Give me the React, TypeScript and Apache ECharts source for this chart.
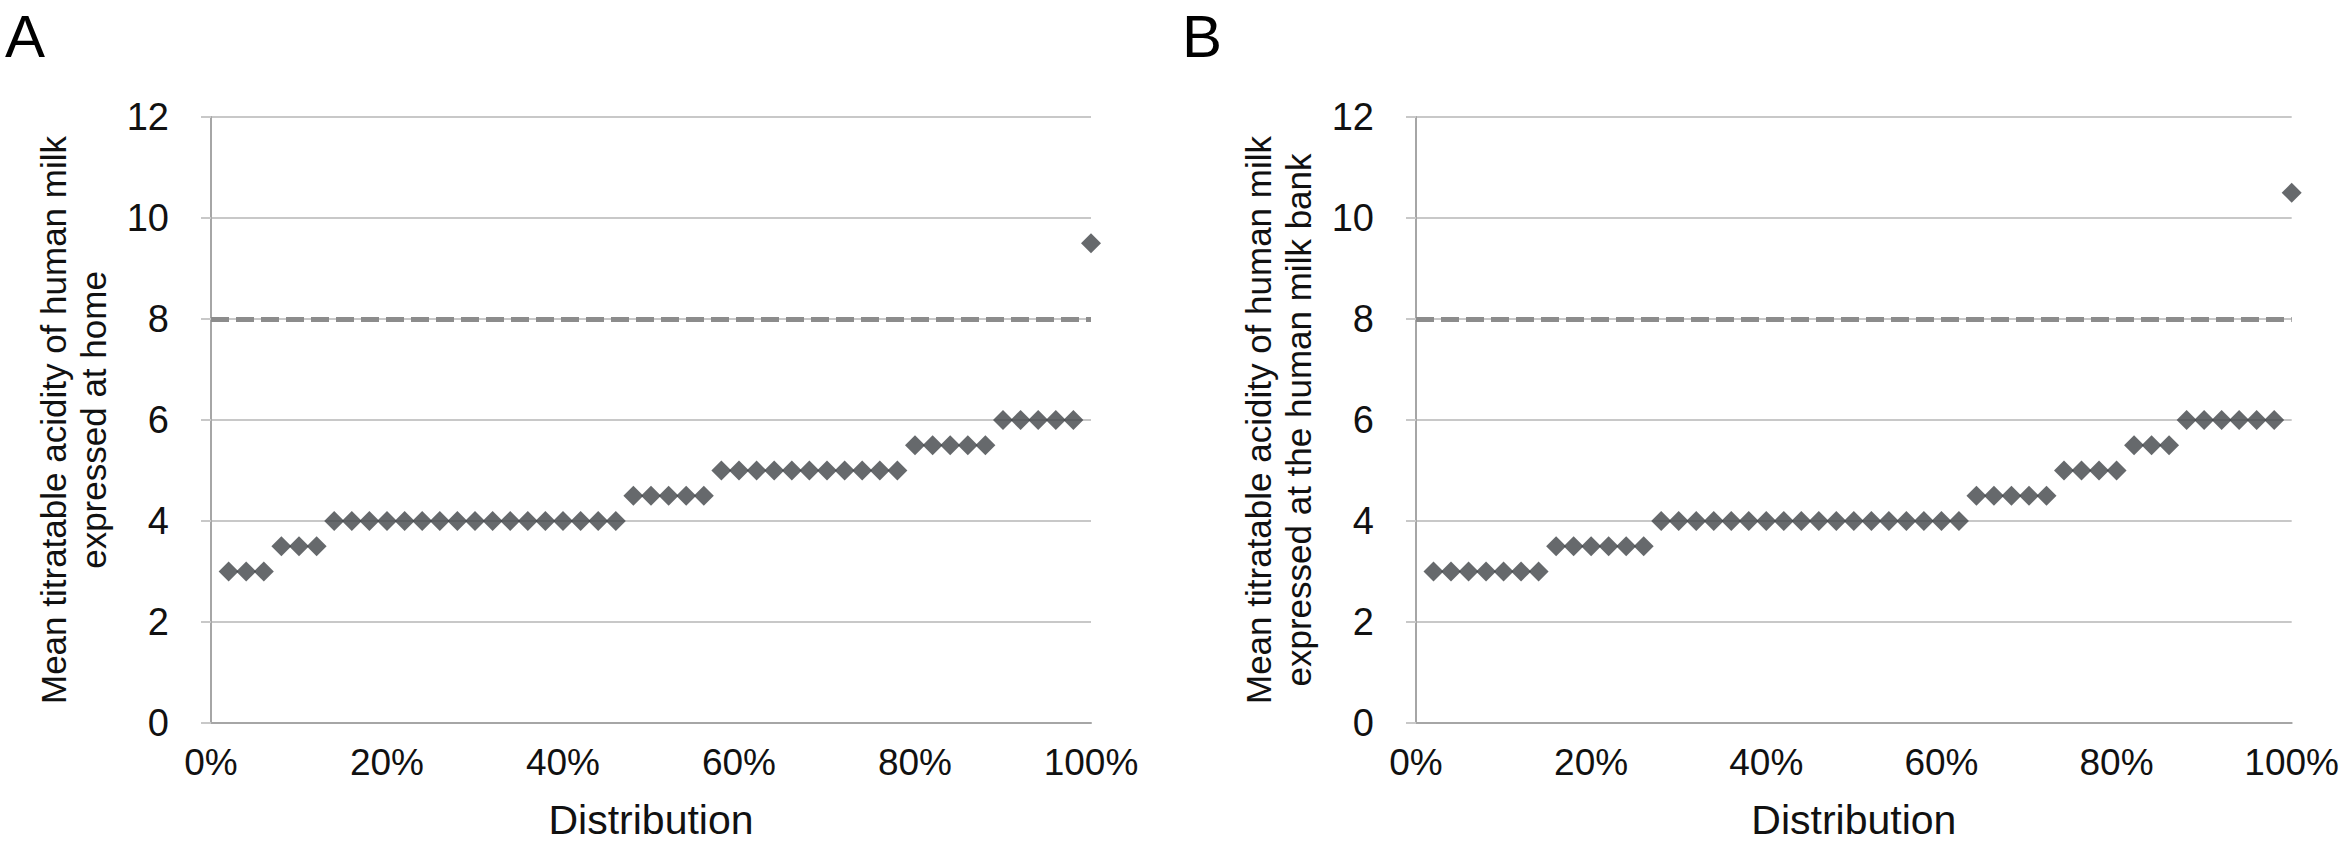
import React, { useEffect, useRef } from "react";
import * as echarts from "echarts";

// Panel A: milk expressed at home (sorted values, one per donor)
const homeValues: number[] = [
  3, 3, 3,
  3.5, 3.5, 3.5,
  4, 4, 4, 4, 4, 4, 4, 4, 4, 4, 4, 4, 4, 4, 4, 4, 4,
  4.5, 4.5, 4.5, 4.5, 4.5,
  5, 5, 5, 5, 5, 5, 5, 5, 5, 5, 5,
  5.5, 5.5, 5.5, 5.5, 5.5,
  6, 6, 6, 6, 6,
  9.5,
];

// Panel B: milk expressed at the human milk bank
const bankValues: number[] = [
  3, 3, 3, 3, 3, 3, 3,
  3.5, 3.5, 3.5, 3.5, 3.5, 3.5,
  4, 4, 4, 4, 4, 4, 4, 4, 4, 4, 4, 4, 4, 4, 4, 4, 4, 4,
  4.5, 4.5, 4.5, 4.5, 4.5,
  5, 5, 5, 5,
  5.5, 5.5, 5.5,
  6, 6, 6, 6, 6, 6,
  10.5,
];

const threshold = 8;
const yTicks = [0, 2, 4, 6, 8, 10, 12];
const xTickLabels = ["0%", "20%", "40%", "60%", "80%", "100%"];
const panelLetters = ["A", "B"];
const yTitles = [
  "Mean titratable acidity of human milk\nexpressed at home",
  "Mean titratable acidity of human milk\nexpressed at the human milk bank",
];
const xTitle = "Distribution";

const toPoints = (vals: number[]) => vals.map((v, i) => [(i + 1) / vals.length, v]);

export default function App() {
  const ref = useRef<HTMLDivElement>(null);
  useEffect(() => {
    if (!ref.current) return;
    const chart = echarts.init(ref.current, null, { renderer: "svg" });
    const font = "'Liberation Sans', Arial, sans-serif";
    const grids = [
      { left: 211, right: 2342 - 1091, top: 117, bottom: 852 - 723 },
      { left: 1416, right: 2342 - 2305, top: 117, bottom: 852 - 723 },
    ];
    const xAxes = grids.map((_, i) => ({
      type: "value",
      gridIndex: i,
      min: 0,
      max: 1,
      interval: 0.2,
      name: xTitle,
      nameLocation: "middle",
      nameGap: 76,
      nameTextStyle: { fontSize: 41, color: "#111", fontFamily: font },
      axisLine: { show: true, lineStyle: { color: "#a6a6a6", width: 2 } },
      axisTick: { show: false },
      splitLine: { show: false },
      axisLabel: {
        fontSize: 37,
        color: "#111",
        fontFamily: font,
        margin: 21,
        formatter: (v: number) => xTickLabels[Math.round(v * 5)] ?? "",
      },
    }));
    const yAxes = grids.map((_, i) => ({
      type: "value",
      gridIndex: i,
      min: yTicks[0],
      max: yTicks[yTicks.length - 1],
      interval: 2,
      name: yTitles[i],
      nameLocation: "middle",
      nameGap: 98,
      nameTextStyle: { fontSize: 35, color: "#111", fontFamily: font, lineHeight: 40 },
      axisLine: { show: true, lineStyle: { color: "#a6a6a6", width: 2 } },
      axisTick: { show: true, length: 10, lineStyle: { color: "#c8c8c8", width: 2 } },
      splitLine: { show: true, lineStyle: { color: "#c8c8c8", width: 2 } },
      axisLabel: { fontSize: 38, color: "#111", fontFamily: font, margin: 42 },
    }));
    const datasets = [homeValues, bankValues];
    const series = datasets.map((vals, i) => ({
      type: "scatter",
      xAxisIndex: i,
      yAxisIndex: i,
      symbol: "diamond",
      symbolSize: [20, 20],
      itemStyle: { color: "#404347" },
      data: toPoints(vals),
      markLine: {
        silent: true,
        symbol: "none",
        label: { show: false },
        lineStyle: { color: "#8c8c8c", width: 5, type: [18, 7] },
        data: [{ yAxis: threshold }],
        z: 1,
      },
      z: 3,
    }));
    chart.setOption({
      animation: false,
      backgroundColor: "#ffffff",
      grid: grids,
      xAxis: xAxes,
      yAxis: yAxes,
      series,
      graphic: [
        {
          type: "text",
          left: 5,
          top: 6,
          style: { text: panelLetters[0], fontSize: 60, fill: "#000", fontFamily: font },
        },
        {
          type: "text",
          left: 1182,
          top: 6,
          style: { text: panelLetters[1], fontSize: 60, fill: "#000", fontFamily: font },
        },
      ],
    });
    return () => chart.dispose();
  }, []);
  return (
    <div
      ref={ref}
      style={{ position: "absolute", left: 0, top: 0, width: 2342, height: 852, background: "#fff" }}
    />
  );
}
